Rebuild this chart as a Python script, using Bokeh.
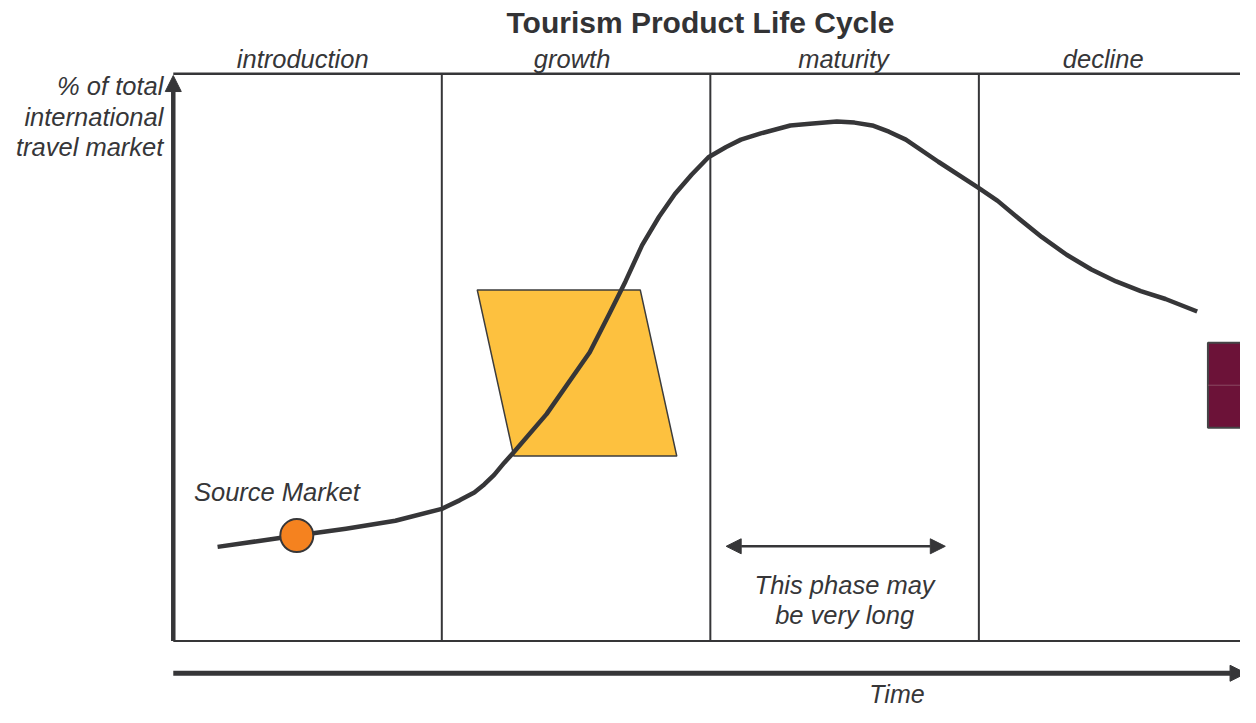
from bokeh.plotting import figure
from bokeh.models import Range1d, Arrow, NormalHead, ColumnDataSource
from bokeh.core.properties import value
from bokeh.embed import file_html
from bokeh.resources import INLINE

# ---- data (time in phase units, share in % of total market) ----
phases = ["introduction", "growth", "maturity", "decline"]
phase_edges = [0, 1, 2, 3, 4]
curve_time = [0.165, 0.313, 0.46, 0.643, 0.827, 1.0, 1.066, 1.121, 1.158, 1.195,
              1.232, 1.268, 1.39, 1.551, 1.625, 1.684, 1.746, 1.809, 1.868, 1.930,
              1.993, 2.059, 2.114, 2.188, 2.298, 2.371, 2.471, 2.537, 2.603, 2.665,
              2.728, 2.849, 2.996, 3.070, 3.143, 3.235, 3.327, 3.419, 3.511, 3.603,
              3.695, 3.813]
curve_share = [16.6, 17.6, 18.6, 19.8, 21.2, 23.3, 24.8, 26.2, 27.6, 29.3,
               31.4, 33.3, 40.0, 50.9, 57.8, 63.4, 69.8, 74.8, 78.8, 82.2,
               85.3, 87.1, 88.4, 89.5, 90.9, 91.2, 91.6, 91.4, 90.9, 89.8,
               88.4, 84.5, 80.0, 77.6, 74.7, 71.2, 68.1, 65.5, 63.4, 61.7,
               60.3, 58.1]
source_market = {"time": [0.46], "share": [18.6]}
para_time = [1.132, 1.739, 1.875, 1.268]
para_share = [61.9, 61.9, 32.6, 32.6]
box_time = [3.853, 4.05]
box_share = [37.6, 52.6]
y_label_lines = ["% of total", "international", "travel market"]
note_lines = ["This phase may", "be very long"]

INK = "#363638"
FONT = value("Liberation Sans")

p = figure(width=1240, height=707, output_backend="svg", toolbar_location=None,
           x_range=Range1d(-0.6434, 3.9743), y_range=Range1d(-11.724, 112.931),
           x_axis_location=None, y_axis_location=None, min_border=0)
p.outline_line_color = None
p.grid.visible = False
p.background_fill_color = "white"
p.border_fill_color = "white"

# frame of the phases
p.segment(x0=[phase_edges[0]], y0=[100], x1=[4.2], y1=[100], line_color=INK, line_width=2.5)
p.segment(x0=[phase_edges[0]], y0=[0], x1=[4.2], y1=[0], line_color=INK, line_width=2)
p.segment(x0=phase_edges[1:4], y0=[0] * 3, x1=phase_edges[1:4], y1=[100] * 3,
          line_color=INK, line_width=2)

# y axis arrow
p.add_layout(Arrow(end=NormalHead(size=16, fill_color=INK, line_color=INK, line_width=1),
                   x_start=0, y_start=0, x_end=0, y_end=99.7,
                   line_color=INK, line_width=4.5))
# time axis arrow
p.add_layout(Arrow(end=NormalHead(size=16, fill_color=INK, line_color=INK),
                   x_start=0, y_start=-5.69, x_end=3.995, y_end=-5.69,
                   line_color=INK, line_width=5))

# parallelogram icon
p.patch(para_time, para_share, fill_color="#FDC13F", line_color="#3c3c3c", line_width=1.5)

# maroon box at right
p.quad(left=box_time[0], right=box_time[1], bottom=box_share[0], top=box_share[1],
       fill_color="#6C1238", line_color="#444446", line_width=2)
p.segment(x0=[box_time[0]], y0=[(box_share[0] + box_share[1]) / 2],
          x1=[box_time[1]], y1=[(box_share[0] + box_share[1]) / 2],
          line_color="#8a4a62", line_width=1)

# life-cycle curve
p.line(curve_time, curve_share, line_color=INK, line_width=4.5, line_join="round",
       line_cap="butt")

# source market dot
p.scatter("time", "share", source=ColumnDataSource(source_market), size=33,
          fill_color="#F5821F", line_color=INK, line_width=2)

# double-headed arrow in maturity phase
p.add_layout(Arrow(start=NormalHead(size=15, fill_color=INK, line_color=INK),
                   end=NormalHead(size=15, fill_color=INK, line_color=INK),
                   x_start=2.059, y_start=16.7, x_end=2.875, y_end=16.7,
                   line_color=INK, line_width=2.5))

# texts
p.text(x=[1.963], y=[109.05], text=["Tourism Product Life Cycle"], text_font=FONT,
       text_font_size="30px", text_font_style="bold", text_color="#333335",
       text_align="center", text_baseline="alphabetic")
p.text(x=[0.482, 1.485, 2.496, 3.463], y=[102.7] * 4, text=phases, text_font=FONT,
       text_font_size="25.5px", text_font_style="italic", text_color=INK,
       text_align="center", text_baseline="alphabetic")
p.text(x=[-0.037] * 3, y=[97.8, 92.4, 87.05], text=y_label_lines, text_font=FONT,
       text_font_size="25.5px", text_font_style="italic", text_color=INK,
       text_align="right", text_baseline="alphabetic")
p.text(x=[0.077], y=[26.3], text=["Source Market"], text_font=FONT,
       text_font_size="25.5px", text_font_style="italic", text_color=INK,
       text_align="left", text_baseline="alphabetic")
p.text(x=[2.5, 2.5], y=[9.9, 4.5], text=note_lines, text_font=FONT,
       text_font_size="25.5px", text_font_style="italic", text_color=INK,
       text_align="center", text_baseline="alphabetic")
p.text(x=[2.695], y=[-9.3], text=["Time"], text_font=FONT,
       text_font_size="25px", text_font_style="italic", text_color=INK,
       text_align="center", text_baseline="middle")

open("out.html", "w").write(file_html(p, INLINE))
